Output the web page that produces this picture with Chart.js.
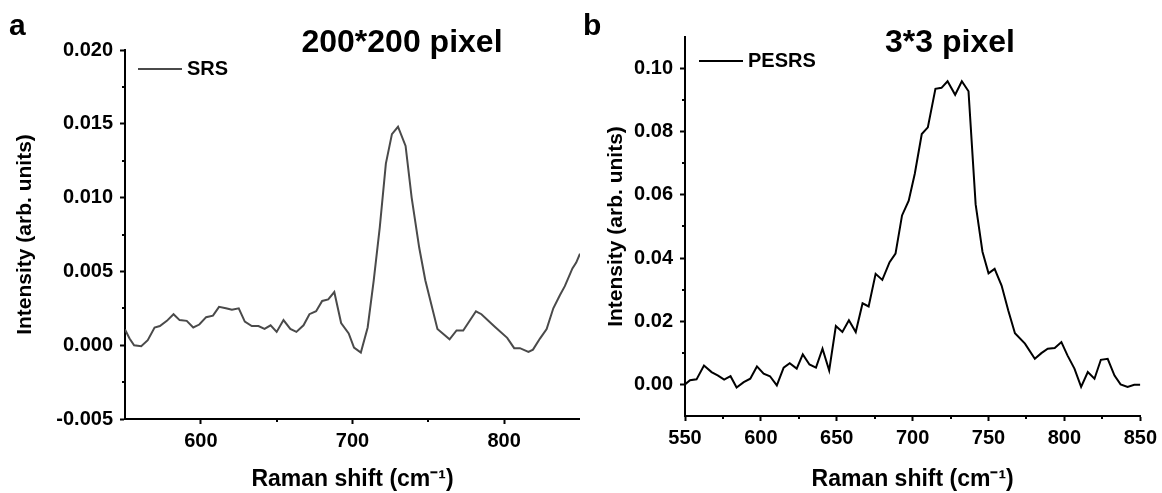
<!DOCTYPE html>
<html>
<head>
<meta charset="utf-8">
<script src="https://cdn.jsdelivr.net/npm/chart.js@4.4.1/dist/chart.umd.min.js"></script>
<style>
  html, body { margin: 0; padding: 0; background: #fff; }
  #wrap { position: relative; width: 1162px; height: 493px; }
  .panel { position: absolute; top: 0; height: 493px; }
  #pa { left: 0; width: 580px; }
  #pb { left: 580px; width: 582px; }
</style>
</head>
<body>
<div id="wrap">
  <div class="panel" id="pa"><canvas id="chartA" width="580" height="493"></canvas></div>
  <div class="panel" id="pb"><canvas id="chartB" width="582" height="493"></canvas></div>
</div>
<script>
// panel a - SRS, 200*200 pixel
var srsShift = [550, 553, 556, 560.7, 565, 569.5, 573, 577.6, 582, 586, 590.7, 595, 599, 603.5, 608, 612,
  616.5, 620.5, 625, 629, 633.6, 638, 642, 646, 650, 654.5, 659, 663, 667.7, 671.6, 676, 680, 684, 688,
  692.5, 697.5, 701, 705.5, 710, 714, 718, 722, 726, 730, 735, 739, 744, 748, 756, 764, 768.6, 773,
  781.4, 785, 794, 802, 806.6, 810.4, 816, 819, 823.6, 828, 832.4, 836.8, 840, 845, 847.5, 850];
var srsIntensity = [0.00106, 0.00045, 0.0, -0.00007, 0.00034, 0.0012, 0.0013, 0.00165, 0.0021, 0.0017, 0.00165,
  0.0012, 0.0014, 0.0019, 0.002, 0.0026, 0.0025, 0.0024, 0.0025, 0.0016, 0.0013, 0.0013, 0.0011, 0.00135,
  0.0009, 0.0017, 0.0011, 0.0009, 0.00135, 0.0021, 0.0023, 0.003, 0.0031, 0.0036, 0.0015, 0.0008, -0.00016,
  -0.0005, 0.0012, 0.0044, 0.008, 0.0123, 0.0143, 0.0148, 0.0135, 0.01, 0.0066, 0.0044, 0.0011, 0.0004,
  0.001, 0.001, 0.0023, 0.0021, 0.00124, 0.0005, -0.0002, -0.0002, -0.00045, -0.0003, 0.00045, 0.0011,
  0.0025, 0.0034, 0.004, 0.0052, 0.0056, 0.0062];

// panel b - PESRS, 3*3 pixel
var pesrsShift = [550, 553.3, 557.6, 562.5, 567.5, 571.8, 575.8, 580, 584, 588.7, 593, 597.4, 601.8, 606,
  610.5, 615, 619, 623.6, 627.6, 632, 636.3, 640.6, 645, 649.4, 653.7, 658, 662.5, 667, 671, 675.6, 680,
  684.8, 688.7, 693, 697.4, 701.4, 706, 710, 715, 719, 723, 728, 732.4, 736.8, 741.5, 746, 750, 754,
  758.6, 763, 767.4, 774, 780.5, 784.8, 789, 793.6, 798, 802, 806.6, 811, 815.4, 819.8, 824, 828.5, 833,
  837, 841.6, 846, 850];
var pesrsIntensity = [0.0, 0.0013, 0.0016, 0.006, 0.0039, 0.0028, 0.0015, 0.0026, -0.001, 0.0007, 0.0018,
  0.0057, 0.0034, 0.0026, -0.0003, 0.0053, 0.0067, 0.005, 0.0095, 0.0063, 0.0053, 0.0113, 0.0044, 0.0185,
  0.0166, 0.0203, 0.0166, 0.0257, 0.0247, 0.035, 0.0331, 0.0387, 0.0414, 0.0535, 0.0582, 0.0667, 0.0793,
  0.0814, 0.0936, 0.0939, 0.096, 0.0917, 0.096, 0.0928, 0.057, 0.042, 0.0352, 0.0366, 0.0313, 0.0234,
  0.0162, 0.0129, 0.0081, 0.0099, 0.0113, 0.0115, 0.0134, 0.0092, 0.005, -0.0008, 0.0039, 0.0018, 0.0078,
  0.0081, 0.0028, 0.0, -0.0008, -0.0001, -0.0001];

var xTicksA = [600, 700, 800];
var xMinorA = [650, 750];
var yTicksA = [-0.005, 0, 0.005, 0.010, 0.015, 0.020];
var yMinorA = [-0.0025, 0.0025, 0.0075, 0.0125, 0.0175];

var xTicksB = [550, 600, 650, 700, 750, 800, 850];
var xMinorB = [575, 625, 675, 725, 775, 825];
var yTicksB = [0, 0.02, 0.04, 0.06, 0.08, 0.10];
var yMinorB = [0.01, 0.03, 0.05, 0.07, 0.09];

var FONT = '"Liberation Sans", Arial, sans-serif';
Chart.defaults.font.family = FONT;
Chart.defaults.color = '#000';

function toPoints(xs, ys) {
  return xs.map(function (x, i) { return { x: x, y: ys[i] }; });
}

// short outward minor ticks, placed with the chart's own scales
var minorTicks = {
  id: 'minorTicks',
  afterDraw: function (chart, args, o) {
    var ctx = chart.ctx, area = chart.chartArea, sx = chart.scales.x, sy = chart.scales.y;
    ctx.save();
    ctx.strokeStyle = '#000';
    ctx.lineWidth = 2;
    ctx.beginPath();
    o.x.forEach(function (v) {
      var px = Math.round(sx.getPixelForValue(v));
      ctx.moveTo(px, area.bottom);
      ctx.lineTo(px, area.bottom + o.length);
    });
    o.y.forEach(function (v) {
      var py = Math.round(sy.getPixelForValue(v));
      ctx.moveTo(area.left, py);
      ctx.lineTo(area.left - o.length, py);
    });
    ctx.stroke();
    ctx.restore();
  }
};

// panel letter, heading and the in-plot legend
var panelText = {
  id: 'panelText',
  afterDraw: function (chart, args, o) {
    var ctx = chart.ctx, area = chart.chartArea;
    var ds = chart.data.datasets[0];
    ctx.save();
    ctx.fillStyle = '#000';
    ctx.textBaseline = 'alphabetic';
    ctx.textAlign = 'left';
    ctx.font = 'bold 30px ' + FONT;
    ctx.fillText(o.letter, o.letterX, 35);
    ctx.textAlign = 'center';
    ctx.font = 'bold 32px ' + FONT;
    ctx.fillText(o.title, o.titleX, 52);
    var lx = area.left + o.legendDx, ly = area.top + o.legendDy;
    ctx.strokeStyle = ds.borderColor;
    ctx.lineWidth = ds.borderWidth;
    ctx.beginPath();
    ctx.moveTo(lx, ly);
    ctx.lineTo(lx + 44, ly);
    ctx.stroke();
    ctx.textAlign = 'left';
    ctx.textBaseline = 'middle';
    ctx.font = 'bold 20px ' + FONT;
    ctx.fillText(ds.label, lx + 49, ly);
    ctx.restore();
  }
};

function makeChart(id, cfg) {
  return new Chart(document.getElementById(id), {
    type: 'line',
    data: {
      datasets: [{
        label: cfg.label,
        data: toPoints(cfg.xs, cfg.ys),
        borderColor: cfg.color,
        borderWidth: 2,
        pointRadius: 0,
        tension: 0,
        fill: false
      }]
    },
    options: {
      responsive: false,
      animation: false,
      layout: { padding: cfg.padding },
      plugins: {
        legend: { display: false },
        tooltip: { enabled: false },
        minorTicks: { x: cfg.xMinor, y: cfg.yMinor, length: 3 },
        panelText: cfg.text
      },
      scales: {
        x: {
          type: 'linear',
          min: 550,
          max: 850,
          afterBuildTicks: function (s) { s.ticks = cfg.xTicks.map(function (v) { return { value: v }; }); },
          afterFit: function (s) { s.height = cfg.xHeight; },
          border: { color: '#000', width: 2 },
          grid: { drawOnChartArea: false, drawTicks: true, tickLength: 5, tickColor: '#000', tickWidth: 2 },
          ticks: {
            color: '#000', padding: 5, maxRotation: 0, autoSkip: false,
            font: { size: 20, weight: 'bold' },
            callback: function (v) { return String(v); }
          },
          title: {
            display: true, text: 'Raman shift (cm\u207B\u00B9)', color: '#000',
            font: { size: 23, weight: 'bold', lineHeight: 1 },
            padding: { top: 0, bottom: 2 }
          }
        },
        y: {
          type: 'linear',
          min: cfg.yMin,
          max: cfg.yMax,
          afterBuildTicks: function (s) { s.ticks = cfg.yTicks.map(function (v) { return { value: v }; }); },
          afterFit: function (s) { s.width = cfg.yWidth; },
          border: { color: '#000', width: 2 },
          grid: { drawOnChartArea: false, drawTicks: true, tickLength: 5, tickColor: '#000', tickWidth: 2 },
          ticks: {
            color: '#000', padding: 7, autoSkip: false,
            font: { size: 20, weight: 'bold' },
            callback: function (v) { return v.toFixed(cfg.yDigits); }
          },
          title: {
            display: true, text: 'Intensity (arb. units)', color: '#000',
            font: { size: 21, weight: 'bold' },
            padding: { top: cfg.yTitlePad, bottom: 0 }
          }
        }
      }
    },
    plugins: [minorTicks, panelText]
  });
}

makeChart('chartA', {
  label: 'SRS', xs: srsShift, ys: srsIntensity, color: '#4a4a4a',
  xTicks: xTicksA, xMinor: xMinorA, yTicks: yTicksA, yMinor: yMinorA,
  yMin: -0.005, yMax: 0.020, yDigits: 3,
  padding: { top: 50, right: 0, left: 0, bottom: 0 },
  xHeight: 74, yWidth: 125, yTitlePad: 13,
  text: { letter: 'a', letterX: 9, title: '200*200 pixel', titleX: 402, legendDx: 13, legendDy: 19 }
});

makeChart('chartB', {
  label: 'PESRS', xs: pesrsShift, ys: pesrsIntensity, color: '#000',
  xTicks: xTicksB, xMinor: xMinorB, yTicks: yTicksB, yMinor: yMinorB,
  yMin: -0.01, yMax: 0.11, yDigits: 2,
  padding: { top: 37, right: 19, left: 0, bottom: 0 },
  xHeight: 77, yWidth: 105, yTitlePad: 24,
  text: { letter: 'b', letterX: 3, title: '3*3 pixel', titleX: 370, legendDx: 14, legendDy: 24 }
});
</script>
</body>
</html>
